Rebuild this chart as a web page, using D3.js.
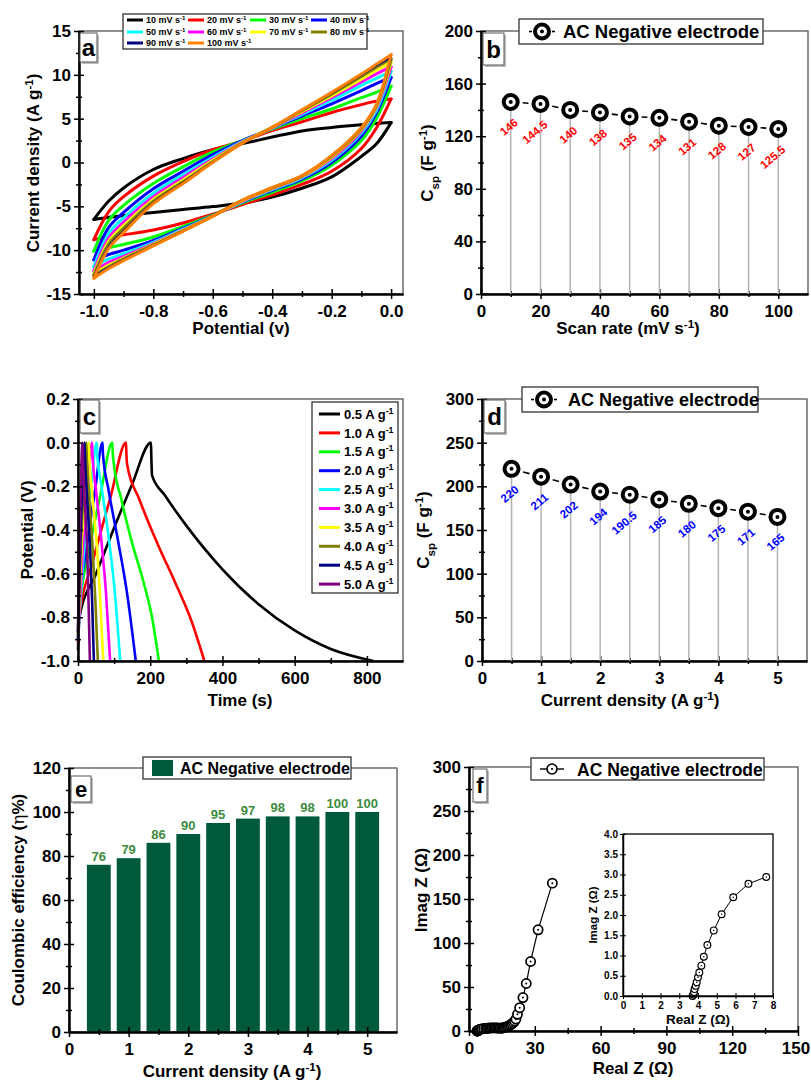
<!DOCTYPE html>
<html>
<head>
<meta charset="utf-8">
<script src="https://cdn.jsdelivr.net/npm/d3@7"></script>
<style>
  body { margin: 0; background: #fff; }
  svg { font-family: 'Liberation Sans', Arial, Helvetica, sans-serif; font-weight: bold; }
</style>
</head>
<body>
<svg id="fig" width="811" height="1080"></svg>
<script>
// ---------- data ----------

// (a) CV loops, current density (A/g) on a common potential grid
const cvRates = ['10', '20', '30', '40', '50', '60', '70', '80', '90', '100'];
const cvColors = ['#000000', '#ff0000', '#00ff00', '#0000ff', '#00ffff', '#ff00ff', '#ffff00', '#808000', '#000080', '#ff8000'];
const cvPotential = [-1, -0.95, -0.9, -0.8, -0.7, -0.6, -0.5, -0.4, -0.3, -0.2, -0.1, -0.05, 0];
const cvUpper = [
  [-6.5, -4.4, -2.9, -0.8, 0.45, 1.45, 2.15, 2.9, 3.6, 4.0, 4.3, 4.45, 4.55],
  [-8.8, -5.6, -3.9, -1.55, 0.1, 1.45, 2.45, 3.65, 4.65, 5.7, 6.6, 7.0, 7.25],
  [-10.1, -6.6, -4.9, -2.4, -0.5, 1.2, 2.5, 3.8, 5.0, 6.1, 7.4, 8.0, 8.7],
  [-11.1, -7.4, -5.7, -3.0, -1.0, 0.9, 2.5, 3.9, 5.3, 6.7, 8.2, 9.0, 9.7],
  [-11.9, -8.1, -6.3, -3.5, -1.4, 0.6, 2.4, 3.9, 5.5, 7.1, 8.8, 9.6, 10.4],
  [-12.4, -8.6, -6.8, -3.9, -1.7, 0.4, 2.35, 3.95, 5.65, 7.4, 9.2, 10.1, 10.9],
  [-12.7, -9.0, -7.2, -4.2, -2.0, 0.25, 2.3, 4.0, 5.8, 7.6, 9.5, 10.5, 11.4],
  [-12.9, -9.3, -7.5, -4.4, -2.2, 0.1, 2.25, 4.0, 5.9, 7.8, 9.8, 10.85, 11.8],
  [-13.0, -9.6, -7.8, -4.6, -2.3, 0.05, 2.2, 4.0, 5.95, 7.9, 10.0, 11.05, 12.0],
  [-13.2, -9.8, -8.0, -4.7, -2.4, 0.0, 2.2, 4.0, 6.0, 8.0, 10.1, 11.2, 12.3]
];
const cvLower = [
  [-6.5, -6.24, -6.05, -5.71, -5.37, -5.03, -4.62, -3.94, -2.94, -1.64, 0.7, 2.1, 4.55],
  [-8.8, -8.5, -8.25, -7.7, -6.9, -5.9, -4.8, -3.7, -2.5, -1.0, 1.6, 3.9, 7.25],
  [-10.1, -9.7, -9.35, -8.5, -7.3, -6.0, -4.6, -3.4, -2.1, -0.3, 2.5, 5.0, 8.7],
  [-11.1, -10.5, -10.0, -8.9, -7.5, -6.05, -4.5, -3.2, -1.9, 0.0, 3.0, 5.6, 9.7],
  [-11.9, -11.0, -10.4, -9.1, -7.6, -6.1, -4.45, -3.1, -1.75, 0.25, 3.35, 5.9, 10.4],
  [-12.4, -11.4, -10.7, -9.25, -7.7, -6.1, -4.4, -3.0, -1.65, 0.45, 3.6, 6.2, 10.9],
  [-12.7, -11.7, -10.9, -9.35, -7.75, -6.1, -4.35, -2.95, -1.6, 0.6, 3.75, 6.35, 11.4],
  [-12.9, -11.9, -11.0, -9.4, -7.8, -6.1, -4.3, -2.9, -1.55, 0.7, 3.85, 6.45, 11.8],
  [-13.0, -12.0, -11.1, -9.45, -7.8, -6.15, -4.3, -2.85, -1.5, 0.75, 3.95, 6.55, 12.0],
  [-13.2, -12.1, -11.2, -9.5, -7.85, -6.15, -4.3, -2.85, -1.5, 0.8, 4.0, 6.6, 12.3]
];

// (b) specific capacitance vs scan rate
const scanRates = [10, 20, 30, 40, 50, 60, 70, 80, 90, 100];
const cspScan = [146, 144.5, 140, 138, 135, 134, 131, 128, 127, 125.5];

// (c) GCD curves, [time s, potential V]
const gcdCurrents = ['0.5', '1.0', '1.5', '2.0', '2.5', '3.0', '3.5', '4.0', '4.5', '5.0'];
const gcdColors = ['#000000', '#ff0000', '#00ff00', '#0000ff', '#00ffff', '#ff00ff', '#ffff00', '#808000', '#000080', '#800080'];
const gcdCurves = [
  [[0, -0.95], [4, -0.8], [50, -0.6], [100, -0.39], [150, -0.19], [202, 0], [203, -0.06], [205, -0.15], [240, -0.24], [300, -0.38], [400, -0.58], [500, -0.74], [600, -0.86], [700, -0.945], [818, -1.0]],
  [[0, -0.92], [3, -0.8], [40, -0.55], [90, -0.25], [133, 0], [134, -0.05], [136, -0.1], [170, -0.26], [222, -0.47], [269, -0.64], [315, -0.82], [350, -1.0]],
  [[0, -0.9], [3, -0.78], [30, -0.5], [62, -0.24], [95, 0], [96, -0.04], [98, -0.08], [120, -0.26], [150, -0.46], [180, -0.63], [205, -0.8], [224, -1.0]],
  [[0, -0.9], [2, -0.78], [25, -0.47], [47, -0.22], [68, 0], [69, -0.05], [85, -0.22], [111, -0.45], [135, -0.68], [160, -1.0]],
  [[0, -0.9], [18, -0.47], [36, -0.2], [52, 0], [53, -0.05], [65, -0.2], [83, -0.41], [100, -0.65], [117, -1.0]],
  [[0, -0.9], [14, -0.47], [27, -0.2], [39, 0], [40, -0.05], [50, -0.22], [66, -0.47], [78, -0.7], [89, -1.0]],
  [[0, -0.88], [10, -0.47], [21, -0.2], [30, 0], [31, -0.05], [40, -0.25], [52, -0.47], [61, -0.7], [70, -1.0]],
  [[0, -0.88], [8, -0.47], [16, -0.2], [23, 0], [24, -0.05], [31, -0.25], [40, -0.47], [48, -0.72], [55, -1.0]],
  [[0, -0.87], [6, -0.47], [12, -0.2], [18, 0], [19, -0.05], [25, -0.25], [33, -0.47], [39, -0.72], [44, -1.0]],
  [[0, -0.86], [4, -0.47], [8, -0.2], [12, 0], [13, -0.05], [18, -0.25], [25, -0.47], [29, -0.72], [33, -1.0]]
];

// (d) specific capacitance vs current density
const currentDensity = [0.5, 1, 1.5, 2, 2.5, 3, 3.5, 4, 4.5, 5];
const cspCurrent = [220, 211, 202, 194, 190.5, 185, 180, 175, 171, 165];

// (e) coulombic efficiency
const efficiency = [76, 79, 86, 90, 95, 97, 98, 98, 100, 100];

// (f) Nyquist plot
const realZ = [3.71, 3.75, 3.79, 3.82, 3.88, 3.93, 4.0, 4.07, 4.18, 4.31, 4.5, 4.84, 5.26, 5.88, 6.69, 7.64,
  8.2, 8.8, 9.4, 10, 10.6, 11.2, 11.8, 12.4, 13, 13.6, 14.2, 14.8, 15.4, 16, 16.6, 17.2, 17.8, 18.4, 19, 19.6,
  20.2, 20.8, 21.4, 22.1, 23.1, 24.6, 26.1, 28.1, 31.5, 38];
const imagZ = [0, 0.04, 0.1, 0.17, 0.25, 0.34, 0.46, 0.58, 0.75, 0.97, 1.26, 1.62, 2.02, 2.44, 2.77, 2.94,
  3.1, 3.3, 3.4, 3.5, 3.6, 3.6, 3.6, 3.5, 3.4, 3.3, 3.3, 3.4, 3.6, 3.9, 4.3, 4.8, 5.4, 6.2, 7.1, 8.2,
  9.6, 11.3, 13.5, 19, 26.5, 38, 54, 79, 115, 168];
const insetReal = [3.71, 3.75, 3.79, 3.82, 3.88, 3.93, 4.0, 4.07, 4.18, 4.31, 4.5, 4.84, 5.26, 5.88, 6.69, 7.64];
const insetImag = [0, 0.04, 0.1, 0.17, 0.25, 0.34, 0.46, 0.58, 0.75, 0.97, 1.26, 1.62, 2.02, 2.44, 2.77, 2.94];

// ---------- helpers ----------
const svg = d3.select('#fig');
const range = (a, b, s) => d3.range(a, b + s / 2, s);
const fix1 = d => d.toFixed(1);

function rich(sel, parts) {
  parts.forEach(([t, k]) => {
    const ts = sel.append('tspan').text(t);
    if (k) ts.attr('font-size', '0.68em').attr('baseline-shift', k === 'sup' ? 'super' : 'sub');
  });
  return sel;
}

function drawAxes(x, y, o) {
  const [xl, xr] = x.range(), [yb, yt] = y.range();
  const fs = o.fs || 17, maj = o.major || 5, min = o.minor || 3;
  svg.append('rect')
    .attr('x', xl).attr('y', yt).attr('width', xr - xl).attr('height', yb - yt)
    .attr('fill', 'none').attr('stroke', o.frame || '#555').attr('stroke-width', 1.3);

  const style = g => {
    g.attr('font-size', fs).attr('font-family', null).attr('font-weight', 'bold');
    g.selectAll('.tick line').attr('stroke', '#000').attr('stroke-width', o.tickW || 1.5);
    g.select('.domain').attr('stroke', '#000').attr('stroke-width', o.axisW || 2);
  };

  if (o.xMinor) {
    const g = svg.append('g').attr('transform', `translate(0,${yb})`)
      .call(d3.axisBottom(x).tickValues(o.xMinor).tickSize(min).tickSizeOuter(0).tickFormat(''));
    g.selectAll('.tick line').attr('y1', -min);
    style(g);
  }
  const gx = svg.append('g').attr('transform', `translate(0,${yb})`)
    .call(d3.axisBottom(x).tickValues(o.xMajor).tickSize(maj).tickSizeOuter(0).tickPadding(o.xPad || 6).tickFormat(o.xFmt || (d => d)));
  gx.selectAll('.tick line').attr('y1', -maj);
  style(gx);
  if (o.lastShift) gx.selectAll('.tick text').filter((d, i, n) => i === n.length - 1).attr('x', o.lastShift);

  if (o.yMinor) {
    const g = svg.append('g').attr('transform', `translate(${xl},0)`)
      .call(d3.axisLeft(y).tickValues(o.yMinor).tickSize(min).tickSizeOuter(0).tickFormat(''));
    g.selectAll('.tick line').attr('x1', min);
    style(g);
  }
  const gy = svg.append('g').attr('transform', `translate(${xl},0)`)
    .call(d3.axisLeft(y).tickValues(o.yMajor).tickSize(maj).tickSizeOuter(0).tickPadding(o.yPad || 3).tickFormat(o.yFmt || (d => d)));
  gy.selectAll('.tick line').attr('x1', maj);
  style(gy);
}

function xTitle(cx, by, parts, fs) {
  rich(svg.append('text').attr('x', cx).attr('y', by).attr('text-anchor', 'middle').attr('font-size', fs || 17), parts);
}
function yTitle(cx, cy, parts, fs) {
  rich(svg.append('text').attr('transform', `translate(${cx},${cy}) rotate(-90)`)
    .attr('dy', '0.35em').attr('text-anchor', 'middle').attr('font-size', fs || 17), parts);
}

function panelLabel(x0, y0, w, h, letter, fs) {
  svg.append('rect').attr('x', x0 + 2).attr('y', y0 + 2).attr('width', w).attr('height', h).attr('fill', '#bdbdbd');
  svg.append('rect').attr('x', x0).attr('y', y0).attr('width', w).attr('height', h)
    .attr('fill', '#fff').attr('stroke', '#555').attr('stroke-width', 1);
  svg.append('text').attr('x', x0 + w / 2).attr('y', y0 + h / 2).attr('dy', '0.36em')
    .attr('text-anchor', 'middle').attr('font-size', fs).text(letter);
}

function ringMarker(g, cx, cy) {
  g.append('circle').attr('cx', cx).attr('cy', cy).attr('r', 7).attr('fill', '#fff').attr('stroke', '#000').attr('stroke-width', 4);
  g.append('circle').attr('cx', cx).attr('cy', cy).attr('r', 2).attr('fill', '#000');
}

function openMarker(g, cx, cy, r, sw) {
  g.append('circle').attr('cx', cx).attr('cy', cy).attr('r', r).attr('fill', '#fff').attr('stroke', '#000').attr('stroke-width', sw);
  g.append('circle').attr('cx', cx).attr('cy', cy).attr('r', r * 0.22).attr('fill', '#000');
}

function legendBox(x0, y0, w, h) {
  svg.append('rect').attr('x', x0).attr('y', y0).attr('width', w).attr('height', h)
    .attr('fill', '#fff').attr('stroke', '#333').attr('stroke-width', 1.3);
}

// gapped connecting line + grey drop lines + ring markers + rotated value labels
function scatterPanel(x, y, xs, ys, labelColor) {
  const g = svg.append('g');
  const pts = xs.map((d, i) => [x(d), y(ys[i])]);
  pts.forEach(([px, py]) => {
    g.append('line').attr('x1', px).attr('x2', px).attr('y1', py).attr('y2', y(0))
      .attr('stroke', '#b3b3b3').attr('stroke-width', 1.5);
  });
  d3.pairs(pts).forEach(([a, b]) => {
    const dx = b[0] - a[0], dy = b[1] - a[1], len = Math.hypot(dx, dy), gap = 12;
    g.append('line')
      .attr('x1', a[0] + dx / len * gap).attr('y1', a[1] + dy / len * gap)
      .attr('x2', b[0] - dx / len * gap).attr('y2', b[1] - dy / len * gap)
      .attr('stroke', '#000').attr('stroke-width', 1.6);
  });
  pts.forEach(([px, py]) => ringMarker(g, px, py));
  pts.forEach(([px, py], i) => {
    g.append('text').attr('transform', `translate(${px + 8},${py + 22}) rotate(-40)`)
      .attr('text-anchor', 'end').attr('font-size', 11.5).attr('fill', labelColor).text(ys[i]);
  });
}

// ---------- (a) CV ----------
{
  const x = d3.scaleLinear().domain([-1.05, 0.04]).range([79, 403]);
  const y = d3.scaleLinear().domain([-15, 15]).range([294, 31]);
  const line = d3.line().x(d => x(d[0])).y(d => y(d[1])).curve(d3.curveCatmullRom.alpha(0.5));
  const g = svg.append('g');
  cvRates.forEach((r, i) => {
    [cvUpper[i], cvLower[i]].forEach(branch => {
      g.append('path').datum(cvPotential.map((v, k) => [v, branch[k]]))
        .attr('d', line).attr('fill', 'none').attr('stroke', cvColors[i])
        .attr('stroke-width', i === 8 ? 2 : 3).attr('stroke-linecap', 'round');
    });
  });
  drawAxes(x, y, {
    xMajor: range(-1, 0, 0.2), xMinor: range(-0.9, -0.1, 0.2), xFmt: fix1,
    yMajor: range(-15, 15, 5), yMinor: range(-12.5, 12.5, 5)
  });
  xTitle(241, 334, [['Potential (v)']]);
  yTitle(33, 163, [['Current density (A g'], ['-1', 'sup'], [')']]);
  panelLabel(80, 33, 17, 29, 'a', 24);

  legendBox(123, 14, 244, 35);
  const cols = [127, 188, 250, 311], rows = [20, 32, 43];
  cvRates.forEach((r, i) => {
    const lx = cols[i % 4], ly = rows[Math.floor(i / 4)];
    svg.append('line').attr('x1', lx).attr('x2', lx + 16).attr('y1', ly).attr('y2', ly)
      .attr('stroke', cvColors[i]).attr('stroke-width', 3);
    rich(svg.append('text').attr('x', lx + 19).attr('y', ly + 3.2).attr('font-size', 9),
      [[`${r} mV s`], ['-1', 'sup']]);
  });
}

// ---------- (b) Csp vs scan rate ----------
{
  const x = d3.scaleLinear().domain([0, 110]).range([481, 808]);
  const y = d3.scaleLinear().domain([0, 200]).range([294, 31]);
  drawAxes(x, y, {
    xMajor: range(0, 100, 20), xMinor: range(10, 90, 20),
    yMajor: range(0, 200, 40), yMinor: range(20, 180, 40)
  });
  scatterPanel(x, y, scanRates, cspScan, '#ff0000');
  xTitle(628, 334, [['Scan rate (mV s'], ['-1', 'sup'], [')']]);
  yTitle(427, 163, [['C'], ['sp', 'sub'], [' (F g'], ['-1', 'sup'], [')']]);
  panelLabel(483, 33, 21, 32, 'b', 24);
  legendBox(519, 19, 244, 25);
  svg.append('line').attr('x1', 529).attr('x2', 532).attr('y1', 31.5).attr('y2', 31.5).attr('stroke', '#000').attr('stroke-width', 1.6);
  svg.append('line').attr('x1', 552).attr('x2', 555).attr('y1', 31.5).attr('y2', 31.5).attr('stroke', '#000').attr('stroke-width', 1.6);
  ringMarker(svg, 542, 31.5);
  svg.append('text').attr('x', 563).attr('y', 38).attr('font-size', 18.5).text('AC Negative electrode');
}

// ---------- (c) GCD ----------
{
  const x = d3.scaleLinear().domain([0, 900]).range([78, 403]);
  const y = d3.scaleLinear().domain([-1.0, 0.2]).range([661, 399]);
  const line = d3.line().x(d => x(d[0])).y(d => y(d[1])).curve(d3.curveMonotoneX);
  const g = svg.append('g');
  gcdCurves.forEach((c, i) => {
    g.append('path').datum(c).attr('d', line).attr('fill', 'none')
      .attr('stroke', gcdColors[i]).attr('stroke-width', 2.6).attr('stroke-linejoin', 'round');
  });
  drawAxes(x, y, {
    xMajor: range(0, 800, 200), xMinor: range(100, 700, 200),
    yMajor: range(-1, 0.2, 0.2), yMinor: range(-0.9, 0.1, 0.2), yFmt: fix1
  });
  xTitle(240, 706, [['Time (s)']]);
  yTitle(27, 530, [['Potential (V)']]);
  panelLabel(80, 400, 19, 33, 'c', 24);

  legendBox(312, 402, 86, 191);
  gcdCurrents.forEach((c, i) => {
    const ly = 414 + i * 18.9;
    svg.append('line').attr('x1', 319).attr('x2', 340).attr('y1', ly).attr('y2', ly)
      .attr('stroke', gcdColors[i]).attr('stroke-width', 3);
    rich(svg.append('text').attr('x', 344).attr('y', ly + 4.6).attr('font-size', 13),
      [[`${c} A g`], ['-1', 'sup']]);
  });
}

// ---------- (d) Csp vs current density ----------
{
  const x = d3.scaleLinear().domain([0, 5.5]).range([482, 807]);
  const y = d3.scaleLinear().domain([0, 300]).range([661, 399]);
  drawAxes(x, y, {
    xMajor: range(0, 5, 1), xMinor: range(0.5, 4.5, 1),
    yMajor: range(0, 300, 50), yMinor: range(25, 275, 50)
  });
  scatterPanel(x, y, currentDensity, cspCurrent, '#0000ff');
  xTitle(630, 706, [['Current density (A g'], ['-1', 'sup'], [')']]);
  yTitle(423, 530, [['C'], ['sp', 'sub'], [' (F g'], ['-1', 'sup'], [')']]);
  panelLabel(484, 400, 21, 33, 'd', 24);
  legendBox(522, 387, 236, 25);
  svg.append('line').attr('x1', 531).attr('x2', 534).attr('y1', 399.5).attr('y2', 399.5).attr('stroke', '#000').attr('stroke-width', 1.6);
  svg.append('line').attr('x1', 554).attr('x2', 557).attr('y1', 399.5).attr('y2', 399.5).attr('stroke', '#000').attr('stroke-width', 1.6);
  ringMarker(svg, 544, 399.5);
  svg.append('text').attr('x', 568).attr('y', 406).attr('font-size', 18).text('AC Negative electrode');
}

// ---------- (e) Coulombic efficiency ----------
{
  const x = d3.scaleLinear().domain([0, 5.5]).range([69, 397]);
  const y = d3.scaleLinear().domain([0, 120]).range([1032, 768]);
  const barW = x(0.4) - x(0);
  svg.append('g').selectAll('rect').data(efficiency).join('rect')
    .attr('x', (d, i) => x(currentDensity[i]) - barW / 2)
    .attr('y', d => y(d))
    .attr('width', barW)
    .attr('height', d => y(0) - y(d))
    .attr('fill', '#005a3a');
  svg.append('g').selectAll('text').data(efficiency).join('text')
    .attr('x', (d, i) => x(currentDensity[i]))
    .attr('y', d => y(d) - 4)
    .attr('text-anchor', 'middle').attr('font-size', 13).attr('fill', '#3d8b3d')
    .text(d => d);
  drawAxes(x, y, {
    xMajor: range(0, 5, 1), xMinor: range(0.5, 4.5, 1),
    yMajor: range(0, 120, 20), yMinor: range(10, 110, 20)
  });
  xTitle(232, 1077, [['Current density (A g'], ['-1', 'sup'], [')']]);
  const t = svg.append('text').attr('transform', 'translate(18,900) rotate(-90)')
    .attr('dy', '0.35em').attr('text-anchor', 'middle').attr('font-size', 17);
  t.append('tspan').text('Coulombic efficiency (');
  t.append('tspan').attr('font-weight', 'normal').attr('font-family', "'DejaVu Serif', serif").text('η');
  t.append('tspan').text('%)');
  panelLabel(71, 776, 20, 26, 'e', 22);
  legendBox(143, 757, 208, 22);
  svg.append('rect').attr('x', 152).attr('y', 760).attr('width', 21).attr('height', 16).attr('fill', '#005a3a');
  svg.append('text').attr('x', 180).attr('y', 774).attr('font-size', 16).text('AC Negative electrode');
}

// ---------- (f) Nyquist ----------
{
  const x = d3.scaleLinear().domain([0, 150]).range([469, 798]);
  const y = d3.scaleLinear().domain([0, 300]).range([1031, 767]);
  drawAxes(x, y, {
    xMajor: range(0, 150, 30), xMinor: range(15, 135, 30),
    yMajor: range(0, 300, 50), yMinor: range(25, 275, 50), lastShift: -2.5
  });
  const g = svg.append('g');
  const pts = realZ.map((d, i) => [d, imagZ[i]]);
  g.append('path').datum(pts).attr('d', d3.line().x(d => x(d[0])).y(d => y(d[1])))
    .attr('fill', 'none').attr('stroke', '#000').attr('stroke-width', 1.2);
  pts.forEach(d => openMarker(g, x(d[0]), y(d[1]), 4.6, 1.7));
  xTitle(633, 1074, [['Real Z ('], ['Ω'], [')']]);
  yTitle(421, 890, [['Imag Z ('], ['Ω'], [')']]);
  panelLabel(473, 769, 14, 33, 'f', 22);
  legendBox(531, 758, 233, 22);
  svg.append('line').attr('x1', 540).attr('x2', 564).attr('y1', 769).attr('y2', 769).attr('stroke', '#000').attr('stroke-width', 1.4);
  openMarker(svg, 552, 769, 5, 1.6);
  svg.append('text').attr('x', 577).attr('y', 775.5).attr('font-size', 17.5).text('AC Negative electrode');

  // inset
  const xi = d3.scaleLinear().domain([0, 8]).range([623, 773]);
  const yi = d3.scaleLinear().domain([0, 4]).range([996, 834]);
  svg.append('rect').attr('x', 623).attr('y', 834).attr('width', 150).attr('height', 162).attr('fill', '#fff');
  const gi = svg.append('g');
  const ipts = insetReal.map((d, i) => [d, insetImag[i]]);
  gi.append('path').datum(ipts).attr('d', d3.line().x(d => xi(d[0])).y(d => yi(d[1])))
    .attr('fill', 'none').attr('stroke', '#000').attr('stroke-width', 1);
  ipts.forEach(d => openMarker(gi, xi(d[0]), yi(d[1]), 3.4, 1.2));
  drawAxes(xi, yi, {
    xMajor: range(0, 8, 1), yMajor: range(0, 4, 0.5), yFmt: fix1,
    fs: 10, major: 3, frame: '#000', axisW: 1.5, tickW: 1, xPad: 3, yPad: 2
  });
  xTitle(698, 1024, [['Real Z ('], ['Ω'], [')']], 13.5);
  yTitle(593, 915, [['Imag Z ('], ['Ω'], [')']], 11.5);
}
</script>
</body>
</html>
